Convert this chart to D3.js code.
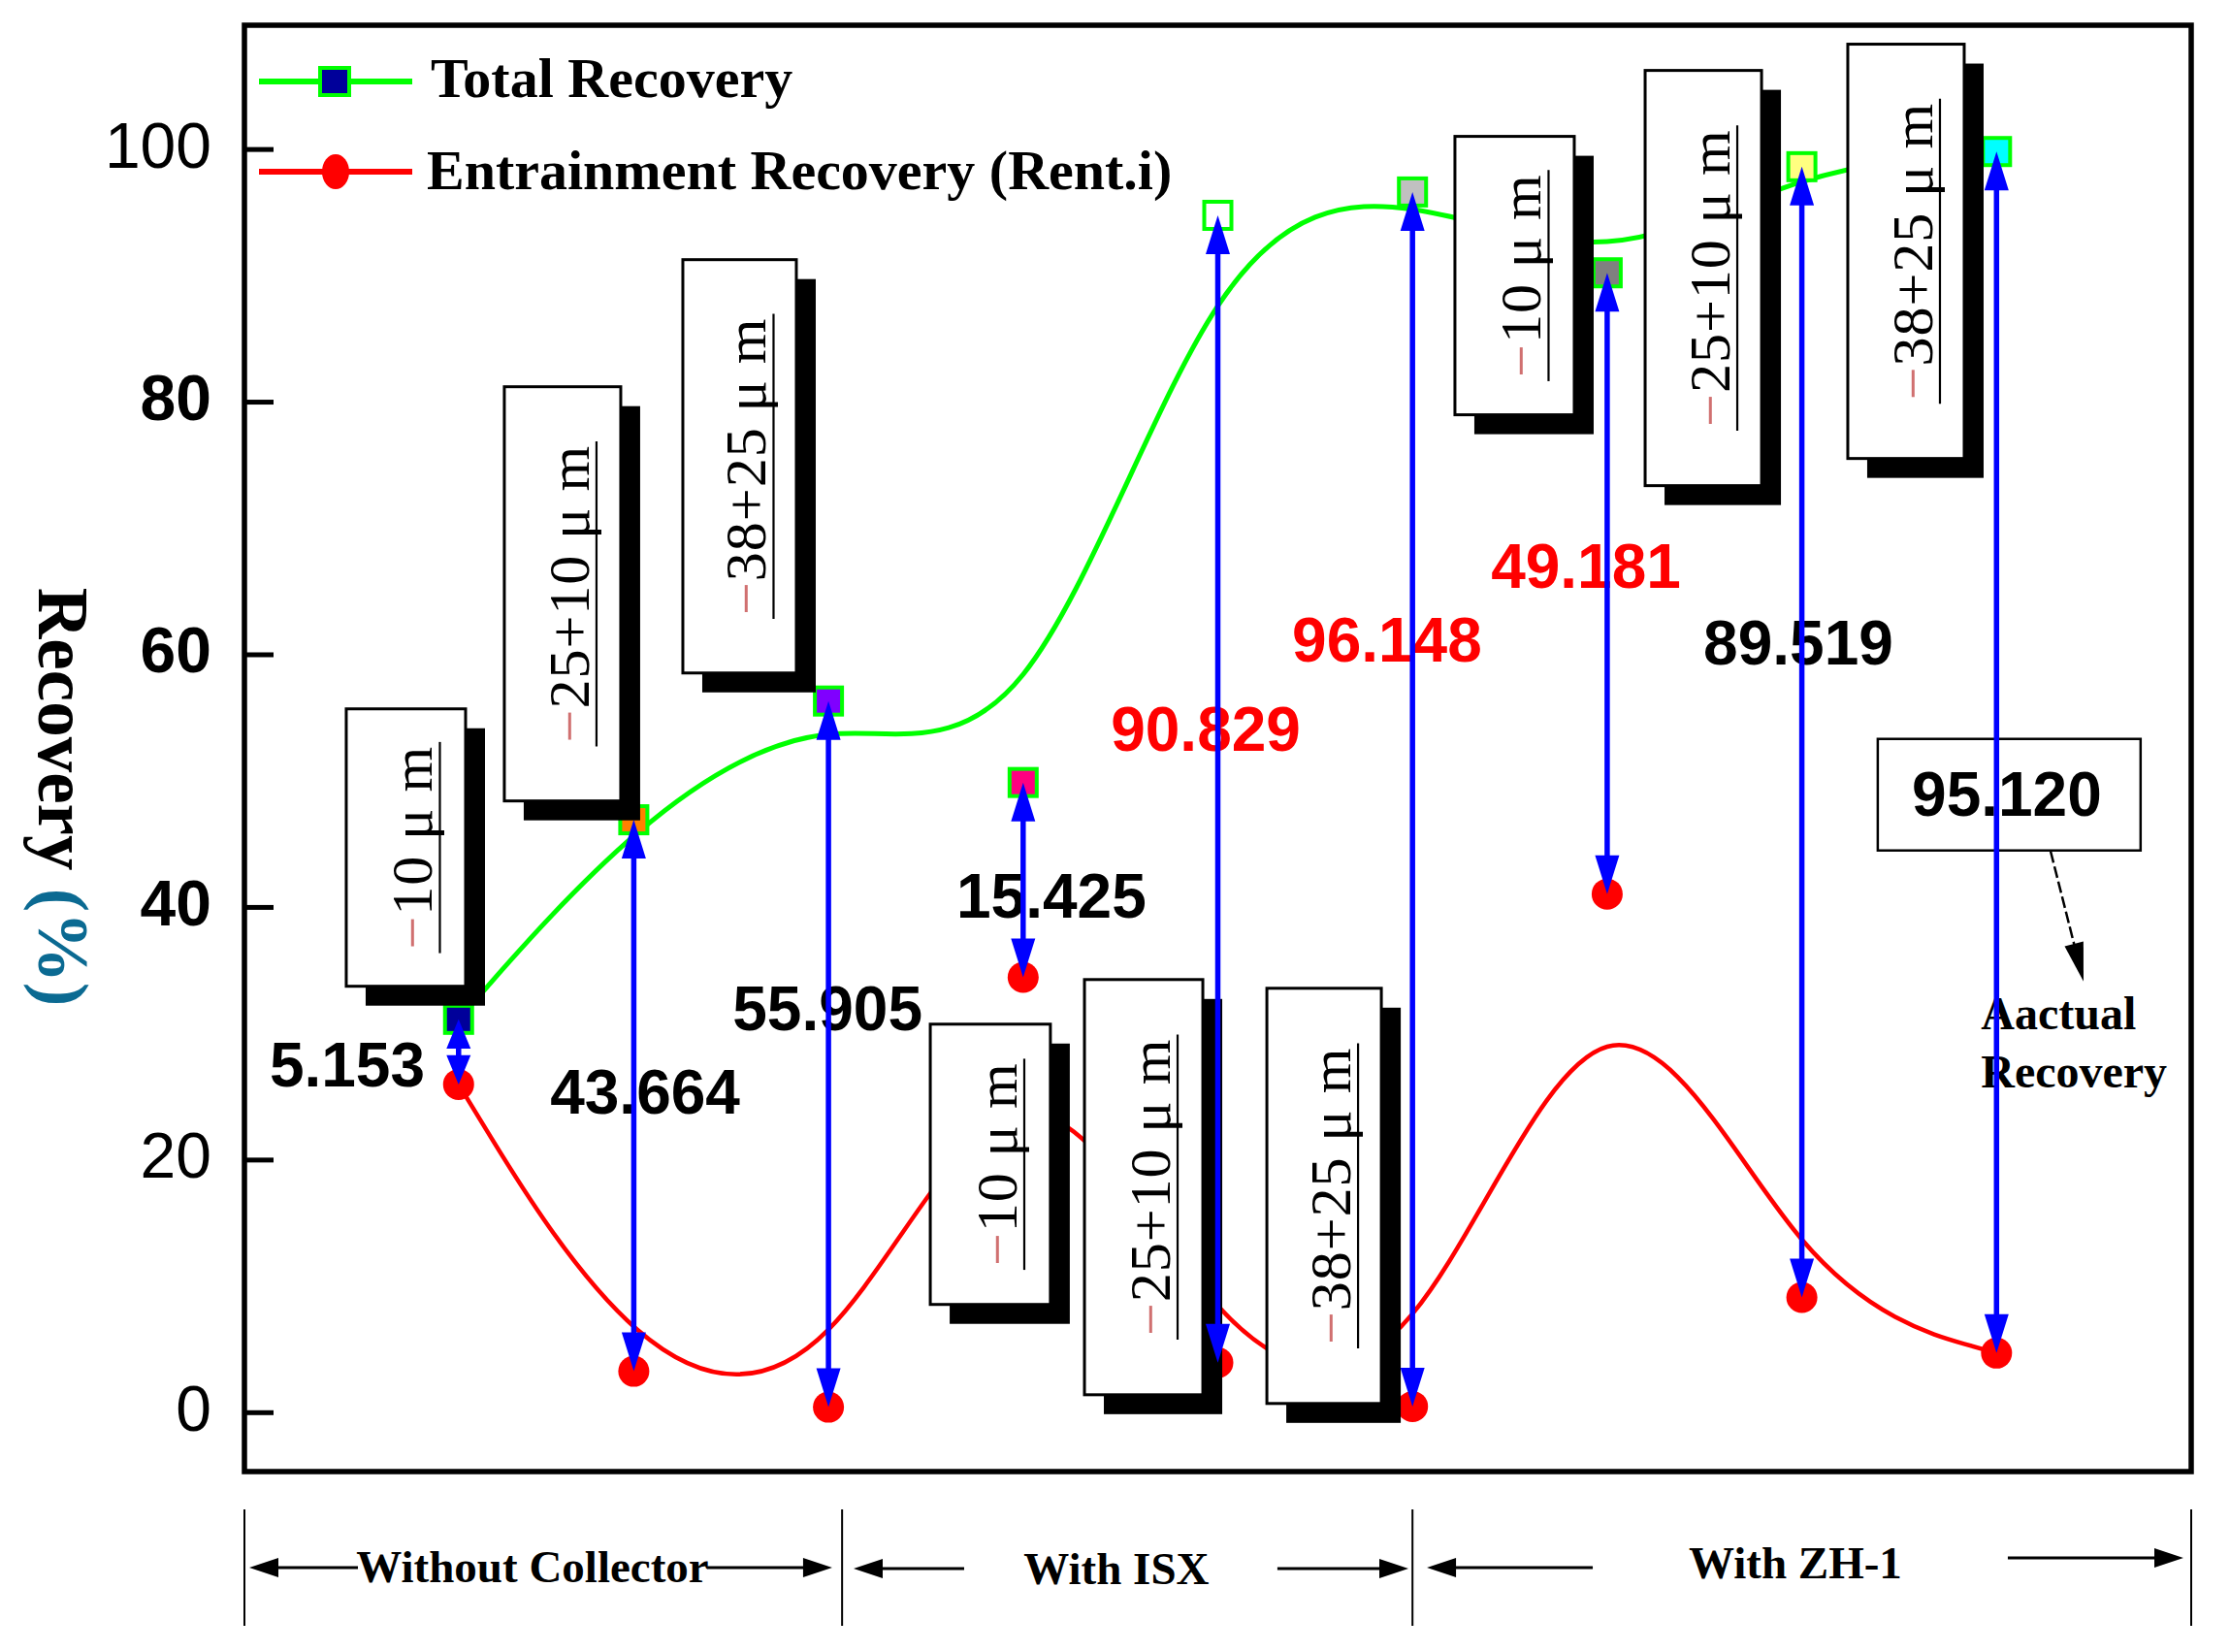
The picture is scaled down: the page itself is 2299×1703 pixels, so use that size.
<!DOCTYPE html>
<html><head><meta charset="utf-8">
<script src="https://cdn.jsdelivr.net/npm/d3@7"></script>
<style>html,body{margin:0;padding:0;background:#fff}</style>
</head><body>
<svg id="chart" width="2299" height="1703" xmlns="http://www.w3.org/2000/svg"></svg>
<script>
// ---------------- DATA ----------------
const xPos = [1.1, 2, 3, 4, 5, 6, 7, 8, 9];
const totalRecovery = [31.1, 46.9, 56.3, 49.85, 94.75, 96.6, 90.2, 98.6, 99.8];
const entrainmentRecovery = [25.95, 3.24, 0.4, 34.43, 3.92, 0.45, 41.02, 9.08, 4.68];
const actualRecovery = ["5.153", "43.664", "55.905", "15.425", "90.829", "96.148", "49.181", "89.519", "95.120"];
const sizeFractions = ["−10 μ m", "−25+10 μ m", "−38+25 μ m",
                       "−10 μ m", "−25+10 μ m", "−38+25 μ m",
                       "−10 μ m", "−25+10 μ m", "−38+25 μ m"];
const groups = ["Without Collector", "With ISX", "With ZH-1"];
const yTicks = [0, 20, 40, 60, 80, 100];
const seriesNames = ["Total Recovery", "Entrainment Recovery (Rent.i)"];
const yTitle = ["Recovery ", "(%)"];
const calloutText = ["Aactual", "Recovery"];

// ---------------- STYLE / LAYOUT ----------------
const squareFills = ["#00009a", "#ff8000", "#8000ff", "#ff0080", "#ffffff", "#c0c0c0", "#808080", "#ffff80", "#00ffff"];
const labelColors = ["#000", "#000", "#000", "#000", "#ff0000", "#ff0000", "#ff0000", "#000", "#000"];
// label anchor (data units): x centre, y baseline
const labelPos = [[0.528, 25.8], [2.058, 23.65], [2.995, 30.26], [4.145, 39.17], [4.938, 52.38],
                  [5.869, 59.45], [6.891, 65.28], [7.982, 59.22], [9.053, 47.24]];
// boxes (data units): x0, x1, top, bottom
const boxPos = [[0.523, 1.136, 55.68, 33.72], [1.335, 1.933, 81.18, 48.39], [2.252, 2.835, 91.24, 58.52],
                [3.523, 4.140, 30.72, 8.53], [4.315, 4.923, 34.25, 1.38], [5.252, 5.840, 33.56, 0.69],
                [6.218, 6.831, 101.0, 78.96], [7.195, 7.793, 106.22, 73.35], [8.236, 8.834, 108.3, 75.5]];
const groupBounds = [0, 3.07, 6.0, 10];

const serif = "'Liberation Serif','Times New Roman',serif";
const sans = "'Liberation Sans',Arial,sans-serif";

const svg = d3.select("#chart");
const plot = {left: 252, right: 2259, top: 26, bottom: 1517};
const x = d3.scaleLinear().domain([0, 10]).range([plot.left, plot.right]);
const y = d3.scaleLinear().domain([-4.7, 109.8]).range([plot.bottom, plot.top]);
const idx = d3.range(xPos.length);

// ---------------- AXIS ----------------
const yAxis = d3.axisLeft(y).tickValues(yTicks).tickSizeInner(-30).tickSizeOuter(0).tickPadding(34);
const ga = svg.append("g").attr("transform", `translate(${plot.left},0)`).call(yAxis);
ga.select(".domain").remove();
ga.selectAll(".tick line").attr("stroke", "#000").attr("stroke-width", 5);
ga.selectAll(".tick text")
  .attr("font-family", sans).attr("font-size", 66).attr("fill", "#000")
  .attr("dy", "0.28em")
  .attr("font-weight", d => (d === 40 || d === 60 || d === 80) ? "bold" : "normal");

// Y title
const yt = svg.append("text")
  .attr("transform", `translate(40,${(plot.top + plot.bottom) / 2 + 50}) rotate(90)`)
  .attr("text-anchor", "middle").attr("font-family", serif).attr("font-weight", "bold")
  .attr("font-size", 73);
yt.append("tspan").attr("fill", "#000").text(yTitle[0]);
yt.append("tspan").attr("fill", "#0b6a92").text(yTitle[1]);

// ---------------- LINES ----------------
const lineTotal = d3.line().curve(d3.curveBasis).x(i => x(xPos[i])).y(i => y(totalRecovery[i]));
const lineEnt = d3.line().curve(d3.curveBasis).x(i => x(xPos[i])).y(i => y(entrainmentRecovery[i]));
svg.append("path").attr("d", lineTotal(idx)).attr("fill", "none").attr("stroke", "#00ff00").attr("stroke-width", 5);
svg.append("path").attr("d", lineEnt(idx)).attr("fill", "none").attr("stroke", "#ff0000").attr("stroke-width", 4.5);

// markers
const sq = 28;
svg.append("g").selectAll("rect").data(idx).join("rect")
  .attr("x", i => x(xPos[i]) - sq / 2).attr("y", i => y(totalRecovery[i]) - sq / 2)
  .attr("width", sq).attr("height", sq)
  .attr("fill", i => squareFills[i]).attr("stroke", "#00ff00").attr("stroke-width", 4);
svg.append("g").selectAll("circle").data(idx).join("circle")
  .attr("cx", i => x(xPos[i])).attr("cy", i => y(entrainmentRecovery[i])).attr("r", 16)
  .attr("fill", "#ff0000");

// ---------------- SIZE BOXES ----------------
const gb = svg.append("g");
boxPos.forEach((b, i) => {
  const bx = x(b[0]), bw = x(b[1]) - x(b[0]);
  const by = y(b[2]), bh = y(b[3]) - y(b[2]);
  gb.append("rect").attr("x", bx + 20).attr("y", by + 20).attr("width", bw).attr("height", bh).attr("fill", "#000");
  gb.append("rect").attr("x", bx).attr("y", by).attr("width", bw).attr("height", bh)
    .attr("fill", "#fff").attr("stroke", "#000").attr("stroke-width", 3);
  const cx = bx + bw / 2 + 27, cy = by + bh / 2;
  const tg = gb.append("g").attr("transform", `translate(${cx},${cy}) rotate(-90)`);
  const t = tg.append("text")
    .attr("text-anchor", "middle").attr("font-family", serif).attr("font-size", 60)
    .attr("letter-spacing", 1).attr("fill", "#000");
  t.append("tspan").attr("fill", "#d07070").text(sizeFractions[i].slice(0, 1));
  t.append("tspan").text(sizeFractions[i].slice(1));
  const L = t.node().getComputedTextLength();
  tg.append("line").attr("x1", -L / 2 - 4).attr("x2", L / 2 + 4).attr("y1", 8).attr("y2", 8)
    .attr("stroke", "#000").attr("stroke-width", 2.2);
});

// ---------------- VALUE LABELS ----------------
svg.append("g").selectAll("text").data(idx).join("text")
  .attr("x", i => x(labelPos[i][0])).attr("y", i => y(labelPos[i][1]))
  .attr("text-anchor", "middle").attr("font-family", sans).attr("font-weight", "bold")
  .attr("font-size", 64).attr("fill", i => labelColors[i])
  .text(i => actualRecovery[i]);
// box round last label
svg.append("rect").attr("x", x(8.39)).attr("y", y(53.3)).attr("width", x(9.74) - x(8.39))
  .attr("height", y(44.47) - y(53.3)).attr("fill", "none").attr("stroke", "#000").attr("stroke-width", 2.5);
// dashed callout arrow
const ax1 = x(9.278), ay1 = y(44.39), ax2 = x(9.447), ay2 = y(34.1);
const ang = Math.atan2(ay2 - ay1, ax2 - ax1);
function head(g, tx, ty, a, len, hw, col) {
  const bx = tx - len * Math.cos(a), by = ty - len * Math.sin(a);
  const px = -Math.sin(a) * hw, py = Math.cos(a) * hw;
  g.append("path").attr("d", `M${tx},${ty}L${bx + px},${by + py}L${bx - px},${by - py}Z`).attr("fill", col);
}
svg.append("line").attr("x1", ax1).attr("y1", ay1)
  .attr("x2", ax2 - 30 * Math.cos(ang)).attr("y2", ay2 - 30 * Math.sin(ang))
  .attr("stroke", "#000").attr("stroke-width", 2.5).attr("stroke-dasharray", "12,4");
head(svg, ax2, ay2, ang, 40, 10, "#000");
svg.append("text").attr("x", x(8.92)).attr("y", y(30.3)).attr("font-family", serif).attr("font-weight", "bold")
  .attr("font-size", 48).text(calloutText[0]);
svg.append("text").attr("x", x(8.92)).attr("y", y(25.7)).attr("font-family", serif).attr("font-weight", "bold")
  .attr("font-size", 48).text(calloutText[1]);

// ---------------- DOUBLE ARROWS ----------------
const garr = svg.append("g");
idx.forEach(i => {
  const px = x(xPos[i]);
  const yTop = y(totalRecovery[i]), yBot = y(entrainmentRecovery[i]);
  const len = Math.abs(yBot - yTop);
  const hl = Math.min(40, len * 0.45);
  const up = yTop < yBot;
  garr.append("line").attr("x1", px).attr("x2", px)
    .attr("y1", yTop + (up ? hl : -hl) * 0.8).attr("y2", yBot - (up ? hl : -hl) * 0.8)
    .attr("stroke", "#0000ff").attr("stroke-width", 5.5);
  head(garr, px, yTop, up ? -Math.PI / 2 : Math.PI / 2, hl, 12.5, "#0000ff");
  head(garr, px, yBot, up ? Math.PI / 2 : -Math.PI / 2, hl, 12.5, "#0000ff");
});

// ---------------- FRAME ----------------
svg.append("rect").attr("x", plot.left).attr("y", plot.top)
  .attr("width", plot.right - plot.left).attr("height", plot.bottom - plot.top)
  .attr("fill", "none").attr("stroke", "#000").attr("stroke-width", 5.5);

// ---------------- LEGEND ----------------
const lg = svg.append("g");
lg.append("line").attr("x1", 267).attr("x2", 425).attr("y1", 84).attr("y2", 84).attr("stroke", "#00ff00").attr("stroke-width", 6);
lg.append("rect").attr("x", 330).attr("y", 70).attr("width", 30).attr("height", 28)
  .attr("fill", squareFills[0]).attr("stroke", "#00ff00").attr("stroke-width", 4);
lg.append("text").attr("x", 444).attr("y", 100).attr("font-family", serif).attr("font-weight", "bold")
  .attr("font-size", 58).text(seriesNames[0]);
lg.append("line").attr("x1", 267).attr("x2", 425).attr("y1", 177).attr("y2", 177).attr("stroke", "#ff0000").attr("stroke-width", 6);
lg.append("ellipse").attr("cx", 346).attr("cy", 177).attr("rx", 14).attr("ry", 18).attr("fill", "#ff0000");
lg.append("text").attr("x", 440).attr("y", 195).attr("font-family", serif).attr("font-weight", "bold")
  .attr("font-size", 58).text(seriesNames[1]);

// ---------------- GROUP BRACKETS ----------------
const gg = svg.append("g");
groupBounds.forEach(b => {
  gg.append("line").attr("x1", x(b)).attr("x2", x(b)).attr("y1", 1556).attr("y2", 1676)
    .attr("stroke", "#000").attr("stroke-width", 2);
});
const grpLayout = [
  {c: 1.48, base: 1631, l: [0.583, 0.025], r: [2.377, 3.019], ay: 1616},
  {c: 4.479, base: 1633, l: [3.697, 3.129], r: [5.306, 5.979], ay: 1617},
  {c: 7.967, base: 1627, l: [6.926, 6.074], r: [9.058, 9.96], ay: 1616, ay2: 1606}
];
grpLayout.forEach((g, i) => {
  gg.append("text").attr("x", x(g.c)).attr("y", g.base).attr("text-anchor", "middle")
    .attr("font-family", serif).attr("font-weight", "bold").attr("font-size", 47).text(groups[i]);
  gg.append("line").attr("x1", x(g.l[0])).attr("x2", x(g.l[1]) + 20).attr("y1", g.ay).attr("y2", g.ay)
    .attr("stroke", "#000").attr("stroke-width", 3);
  head(gg, x(g.l[1]), g.ay, Math.PI, 30, 10, "#000");
  const ry = g.ay2 || g.ay;
  gg.append("line").attr("x1", x(g.r[0])).attr("x2", x(g.r[1]) - 20).attr("y1", ry).attr("y2", ry)
    .attr("stroke", "#000").attr("stroke-width", 3);
  head(gg, x(g.r[1]), ry, 0, 30, 10, "#000");
});
</script>
</body></html>
